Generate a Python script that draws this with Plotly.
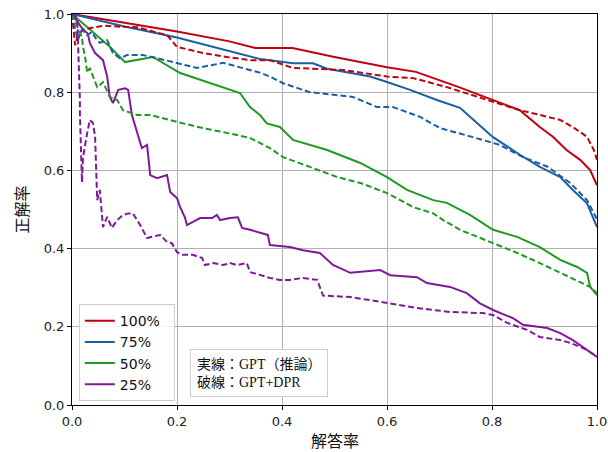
import plotly.graph_objects as go

# ---- data ----
series_names = ["100%", "75%", "50%", "25%"]
series_colors = ["#C0000F", "#1A5FA3", "#1F9A1F", "#7E1A9A"]

# 100% solid
r_sol_x = [0, 0.1, 0.2, 0.3, 0.349, 0.42, 0.5, 0.6, 0.655, 0.737, 0.762, 0.8, 0.853, 0.891, 0.916, 0.942, 0.968, 0.987, 1.0]
r_sol_y = [1.0, 0.978, 0.955, 0.93, 0.913, 0.913, 0.89, 0.864, 0.852, 0.813, 0.80, 0.78, 0.754, 0.711, 0.686, 0.652, 0.627, 0.601, 0.562]
# 100% dashed
r_das_x = [0, 0.006, 0.01, 0.02, 0.035, 0.06, 0.086, 0.124, 0.181, 0.2, 0.25, 0.295, 0.34, 0.377, 0.421, 0.516, 0.6, 0.65, 0.714, 0.771, 0.853, 0.891, 0.93, 0.954, 0.981, 0.994, 1.0]
r_das_y = [1.0, 0.92, 0.94, 0.96, 0.964, 0.97, 0.968, 0.966, 0.946, 0.916, 0.90, 0.89, 0.882, 0.882, 0.862, 0.857, 0.84, 0.836, 0.813, 0.788, 0.754, 0.742, 0.729, 0.711, 0.686, 0.652, 0.627]
# 75% solid
b_sol_x = [0, 0.1, 0.2, 0.3, 0.349, 0.358, 0.421, 0.459, 0.486, 0.568, 0.6, 0.644, 0.695, 0.739, 0.764, 0.802, 0.853, 0.891, 0.93, 0.954, 0.981, 0.992, 1.0]
b_sol_y = [1.0, 0.968, 0.94, 0.905, 0.887, 0.885, 0.874, 0.874, 0.86, 0.84, 0.826, 0.806, 0.78, 0.76, 0.73, 0.685, 0.64, 0.609, 0.583, 0.55, 0.516, 0.481, 0.455]
# 75% dashed
b_das_x = [0, 0.011, 0.019, 0.029, 0.038, 0.044, 0.053, 0.067, 0.078, 0.091, 0.105, 0.135, 0.162, 0.2, 0.238, 0.288, 0.326, 0.358, 0.377, 0.402, 0.453, 0.535, 0.581, 0.611, 0.663, 0.701, 0.764, 0.815, 0.859, 0.905, 0.949, 0.981, 1.0]
b_das_y = [1.0, 0.933, 0.96, 0.946, 0.954, 0.94, 0.926, 0.933, 0.90, 0.887, 0.895, 0.895, 0.887, 0.875, 0.862, 0.875, 0.862, 0.85, 0.84, 0.823, 0.80, 0.788, 0.762, 0.762, 0.737, 0.708, 0.685, 0.665, 0.634, 0.61, 0.568, 0.524, 0.475]
# 50% solid
g_sol_x = [0, 0.034, 0.072, 0.101, 0.154, 0.206, 0.257, 0.288, 0.32, 0.339, 0.358, 0.371, 0.396, 0.421, 0.486, 0.549, 0.6, 0.638, 0.688, 0.714, 0.758, 0.802, 0.848, 0.891, 0.93, 0.962, 0.981, 0.987, 1.0]
g_sol_y = [1.0, 0.96, 0.916, 0.877, 0.89, 0.849, 0.826, 0.813, 0.798, 0.762, 0.742, 0.72, 0.711, 0.678, 0.652, 0.619, 0.583, 0.55, 0.524, 0.517, 0.486, 0.448, 0.43, 0.404, 0.371, 0.353, 0.338, 0.302, 0.281]
# 50% dashed
g_das_x = [0, 0.019, 0.021, 0.025, 0.029, 0.034, 0.04, 0.048, 0.059, 0.072, 0.086, 0.097, 0.124, 0.149, 0.2, 0.25, 0.295, 0.339, 0.377, 0.402, 0.453, 0.505, 0.549, 0.6, 0.65, 0.688, 0.707, 0.739, 0.802, 0.848, 0.891, 0.93, 0.968, 0.987, 1.0]
g_das_y = [1.0, 0.94, 0.916, 0.89, 0.85, 0.862, 0.84, 0.813, 0.826, 0.788, 0.78, 0.754, 0.742, 0.742, 0.724, 0.708, 0.696, 0.683, 0.657, 0.634, 0.609, 0.583, 0.568, 0.542, 0.506, 0.49, 0.473, 0.448, 0.414, 0.389, 0.363, 0.338, 0.315, 0.302, 0.286]
# 25% solid
p_sol_x = [0, 0.021, 0.03, 0.034, 0.044, 0.059, 0.067, 0.072, 0.078, 0.088, 0.101, 0.107, 0.114, 0.124, 0.133, 0.143, 0.149, 0.162, 0.181, 0.187, 0.2, 0.206, 0.215, 0.219, 0.23, 0.244, 0.267, 0.276, 0.282, 0.301, 0.316, 0.324, 0.339, 0.358, 0.373, 0.377, 0.415, 0.44, 0.472, 0.497, 0.53, 0.587, 0.606, 0.657, 0.676, 0.72, 0.752, 0.777, 0.802, 0.84, 0.859, 0.905, 0.93, 0.954, 0.981, 1.0]
p_sol_y = [1.0, 0.96, 0.95, 0.926, 0.90, 0.882, 0.84, 0.788, 0.772, 0.806, 0.81, 0.806, 0.742, 0.698, 0.657, 0.665, 0.588, 0.58, 0.588, 0.545, 0.529, 0.506, 0.48, 0.46, 0.468, 0.478, 0.478, 0.486, 0.473, 0.478, 0.48, 0.453, 0.448, 0.44, 0.435, 0.409, 0.404, 0.396, 0.389, 0.358, 0.338, 0.345, 0.332, 0.327, 0.312, 0.302, 0.286, 0.26, 0.243, 0.222, 0.205, 0.197, 0.184, 0.166, 0.141, 0.123]
# 25% dashed
p_das_x = [0, 0.01, 0.015, 0.015, 0.019, 0.021, 0.029, 0.034, 0.04, 0.044, 0.048, 0.053, 0.059, 0.067, 0.076, 0.086, 0.097, 0.107, 0.116, 0.13, 0.143, 0.168, 0.181, 0.19, 0.2, 0.211, 0.23, 0.248, 0.253, 0.269, 0.288, 0.301, 0.314, 0.333, 0.339, 0.358, 0.377, 0.396, 0.415, 0.44, 0.467, 0.478, 0.53, 0.592, 0.657, 0.72, 0.783, 0.802, 0.829, 0.867, 0.891, 0.93, 0.949, 0.981, 1.0]
p_das_y = [1.0, 0.99, 0.78, 0.747, 0.57, 0.634, 0.696, 0.729, 0.721, 0.686, 0.524, 0.55, 0.455, 0.481, 0.453, 0.473, 0.486, 0.49, 0.49, 0.46, 0.427, 0.435, 0.417, 0.414, 0.391, 0.384, 0.384, 0.376, 0.358, 0.363, 0.358, 0.363, 0.358, 0.363, 0.34, 0.332, 0.325, 0.32, 0.32, 0.325, 0.32, 0.28, 0.276, 0.263, 0.248, 0.238, 0.235, 0.23, 0.21, 0.192, 0.174, 0.166, 0.159, 0.141, 0.123]

tick_vals = [0, 0.2, 0.4, 0.6, 0.8, 1.0]
tick_text = ["0.0", "0.2", "0.4", "0.6", "0.8", "1.0"]
x_title = "解答率"
y_title = "正解率"
note_text = "実線：GPT（推論）<br>破線：GPT+DPR"

solid = [(r_sol_x, r_sol_y), (b_sol_x, b_sol_y), (g_sol_x, g_sol_y), (p_sol_x, p_sol_y)]
dashed = [(r_das_x, r_das_y), (b_das_x, b_das_y), (g_das_x, g_das_y), (p_das_x, p_das_y)]

fig = go.Figure()
for i in range(4):
    xs, ys = solid[i]
    fig.add_trace(go.Scatter(x=xs, y=ys, mode="lines", name=series_names[i] + "  ",
                             line=dict(color=series_colors[i], width=2), showlegend=True))
for i in range(4):
    xs, ys = dashed[i]
    fig.add_trace(go.Scatter(x=xs, y=ys, mode="lines", name=series_names[i] + " dashed",
                             line=dict(color=series_colors[i], width=2, dash="6px,3px"), showlegend=False))

W, H = 608, 452
ML, MR, MT, MB = 72, 11, 14, 47
plot_w = W - ML - MR
plot_h = H - MT - MB

axis_common = dict(
    range=[0, 1], tickvals=tick_vals, ticktext=tick_text,
    showgrid=True, gridcolor="#b0b0b0", gridwidth=1,
    showline=True, linecolor="black", linewidth=1, mirror=True,
    ticks="outside", ticklen=4, tickcolor="black",
    tickfont=dict(family="DejaVu Sans", size=13, color="#222"),
    zeroline=False, automargin=False, ticklabeloverflow="allow",
)
fig.update_layout(
    width=W, height=H,
    margin=dict(l=ML, r=MR, t=MT, b=MB),
    paper_bgcolor="white", plot_bgcolor="white",
    xaxis=dict(**axis_common),
    yaxis=dict(**axis_common),
    legend=dict(x=0.013, y=0.258, xanchor="left", yanchor="top",
                bgcolor="rgba(255,255,255,0.85)", bordercolor="#cccccc", borderwidth=1,
                font=dict(family="DejaVu Sans", size=14, color="#111"), tracegroupgap=0,
                itemwidth=30),
    showlegend=True,
    annotations=[
        dict(text=note_text, x=0.225, y=0.02, xref="paper", yref="paper",
             xanchor="left", yanchor="bottom", showarrow=False, align="left",
             font=dict(family="Liberation Serif, Noto Sans CJK JP", size=14, color="#111"),
             bgcolor="white", bordercolor="#cccccc", borderwidth=1, borderpad=6),
        dict(text=x_title, x=0.5, y=-35 / plot_h, xref="paper", yref="paper", showarrow=False,
             font=dict(family="Noto Sans CJK JP", size=16, color="#111"),
             xanchor="center", yanchor="middle"),
        dict(text=y_title, x=-52 / plot_w, y=0.5, xref="paper", yref="paper", showarrow=False,
             textangle=-90, font=dict(family="Noto Sans CJK JP", size=16, color="#111"),
             xanchor="center", yanchor="middle"),
    ],
)
fig.write_html("out.html", config={"displayModeBar": False},
               post_script="document.body.style.margin='0';document.body.style.overflow='hidden';")
